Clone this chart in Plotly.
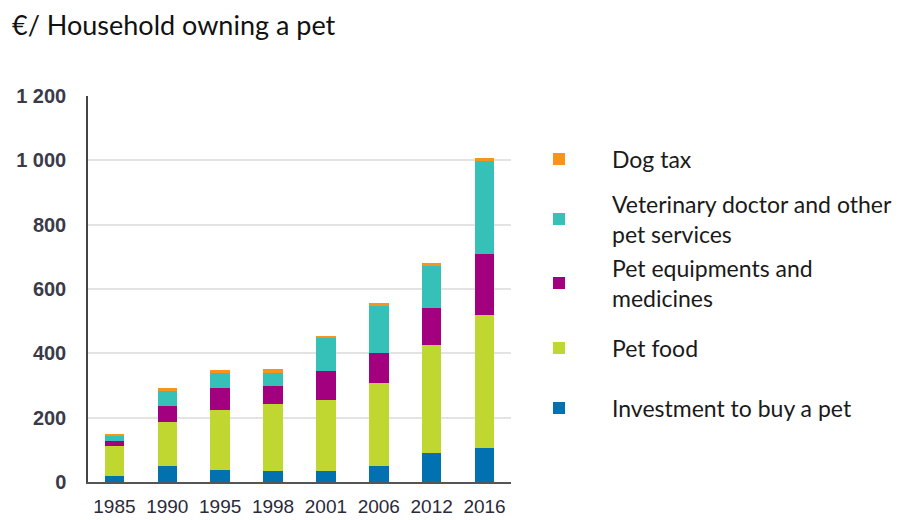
import plotly.graph_objects as go

# Household spending on pets, euros per household owning a pet
years = ["1985", "1990", "1995", "1998", "2001", "2006", "2012", "2016"]
investment = [18, 49, 38, 34, 34, 49, 90, 107]
pet_food = [93, 139, 186, 207, 222, 259, 336, 413]
equipment = [17, 49, 68, 57, 89, 93, 116, 189]
veterinary = [16, 47, 48, 42, 104, 147, 131, 292]
dog_tax = [5, 9, 7, 12, 6, 7, 7, 5]

series_names = [
    "Investment to buy a pet",
    "Pet food",
    "Pet equipments and<br>medicines",
    "Veterinary doctor and other<br>pet services",
    "Dog tax",
]
series_values = [investment, pet_food, equipment, veterinary, dog_tax]
series_colors = ["#0171B0", "#BFD730", "#A2007E", "#35C0B8", "#F7941D"]

y_ticks = [0, 200, 400, 600, 800, 1000, 1200]
y_tick_text = ["0", "200", "400", "600", "800", "1 000", "1 200"]

W, H = 904, 520
ML, MR, MT, MB = 88, 393, 96, 38
PW, PH = W - ML - MR, H - MT - MB


def px_x(x):
    return (x - ML) / PW


def px_y(y):
    return (H - MB - y) / PH


fig = go.Figure()
for name, vals, color in zip(series_names, series_values, series_colors):
    fig.add_trace(go.Bar(
        x=years, y=vals, name=name.replace("<br>", " "),
        marker=dict(color=color, line=dict(width=0)),
        showlegend=False,
    ))

# Custom legend on the right: colour squares with labels
legend_rows = [408, 348, 283, 219, 159]  # pixel rows, bottom to top
for name, color, py in zip(series_names, series_colors, legend_rows):
    fig.add_shape(type="rect", xref="paper", yref="paper",
                  x0=px_x(553), x1=px_x(565),
                  y0=px_y(py + 6), y1=px_y(py - 6),
                  fillcolor=color, line=dict(width=0))
    fig.add_annotation(xref="paper", yref="paper",
                       x=px_x(610), y=px_y(py),
                       text=name, showarrow=False, xanchor="left", yanchor="middle",
                       align="left",
                       font=dict(family="Lato, Open Sans, sans-serif", size=23, color="#1a1a1a"))

fig.add_annotation(xref="paper", yref="paper", x=px_x(10), y=px_y(24),
                   text="€/ Household owning a pet", showarrow=False,
                   xanchor="left", yanchor="middle",
                   font=dict(family="Lato, Open Sans, sans-serif", size=27, color="#111111"))

fig.update_layout(
    barmode="stack",
    bargap=0.63,
    width=W, height=H,
    margin=dict(l=ML, r=MR, t=MT, b=MB, autoexpand=False),
    paper_bgcolor="white", plot_bgcolor="white",
    xaxis=dict(
        type="category", showgrid=False, automargin=False,
        showline=True, linecolor="#555555", linewidth=2,
        ticks="", tickfont=dict(family="Liberation Sans, Arial", size=19, color="#2a2a3a"),
        ticklabelstandoff=6,
    ),
    yaxis=dict(
        range=[0, 1200], tickvals=y_ticks, ticktext=y_tick_text, automargin=False,
        showgrid=True, gridcolor="#e3e3e3", gridwidth=2,
        showline=True, linecolor="#444444", linewidth=1.5,
        zeroline=False, ticks="",
        tickfont=dict(family="Liberation Sans, Arial", size=20, color="#3a3a4a", weight="bold"),
        ticklabelstandoff=16,
    ),
)

fig.write_html("out.html")
